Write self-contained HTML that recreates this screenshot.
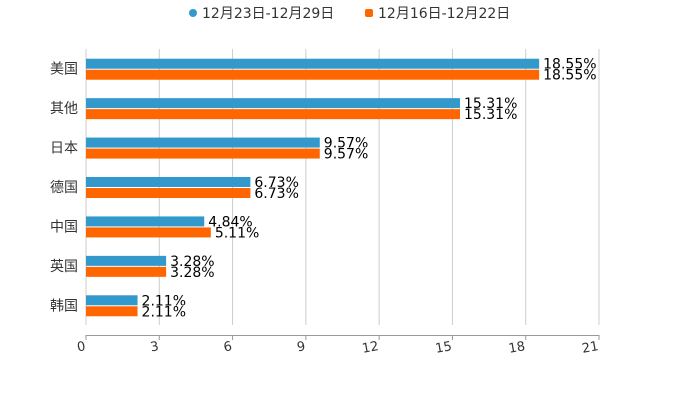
<!DOCTYPE html>
<html><head><meta charset="utf-8"><style>
body{margin:0;background:#fff;width:700px;height:400px;overflow:hidden}
svg text{font-family:"DejaVu Sans","Noto Sans CJK SC",sans-serif}
</style></head><body>
<svg id="c" width="700" height="400">
<g>
 <g><circle cx="193" cy="13" r="4" fill="#3399cc"/><text x="202" y="18" font-size="14" fill="#333">12月23日-12月29日</text></g>
 <g><rect x="365" y="9" width="8" height="8" rx="2" fill="#ff6600"/><text x="378" y="18" font-size="14" fill="#333">12月16日-12月22日</text></g>
</g>
</svg>
<script>
const categories=["美国","其他","日本","德国","中国","英国","韩国"];
const seriesA=[18.55,15.31,9.57,6.73,4.84,3.28,2.11];
const seriesB=[18.55,15.31,9.57,6.73,5.11,3.28,2.11];
const ticks=[0,3,6,9,12,15,18,21];
const svg=document.getElementById('c');const NS="http://www.w3.org/2000/svg";
const x0=86,x1=599,plotTop=49,bandBot=325,axisY=335;
const xs=v=>x0+(v/21)*(x1-x0);
const bandH=(bandBot-plotTop)/categories.length;
function mk(t,a,p){const e=document.createElementNS(NS,t);for(const k in a)e.setAttribute(k,a[k]);(p||svg).appendChild(e);return e;}
ticks.forEach((t,i)=>{
 const g=mk('line',{x1:xs(t),x2:xs(t),y1:plotTop,y2:bandBot,stroke:'#ccc','stroke-width':1});
 
 
 const tk=mk('line',{x1:xs(t),x2:xs(t),y1:axisY,y2:axisY+5,stroke:'#999'});
 
 
 const l=mk('text',{x:xs(t),y:axisY+15,'font-size':13,fill:'#333','text-anchor':'end',transform:`rotate(-10 ${xs(t)} ${axisY+15})`});
 l.textContent=t;
 
 
});
const ax=mk('line',{x1:x0,x2:x1,y1:axisY+0.5,y2:axisY+0.5,stroke:'#999'});


categories.forEach((c,i)=>{
 const cy=plotTop+bandH*(i+0.5);
 const l=mk('text',{x:78,y:cy+5,'font-size':14,fill:'#333','text-anchor':'end'});l.textContent=c;
 
 
 [[seriesA,'#3399cc',cy-10],[seriesB,'#ff6600',cy+1]].forEach(([s,col,y],k)=>{
  const r=mk('rect',{x:x0,y:y,width:xs(s[i])-x0,height:10,fill:col});
  
  
  const v=mk('text',{x:xs(s[i])+4,y:y+10,'font-size':14,fill:'#000'});v.textContent=s[i].toFixed(2)+'%';
  
  
 });
});
</script>
</body></html>
